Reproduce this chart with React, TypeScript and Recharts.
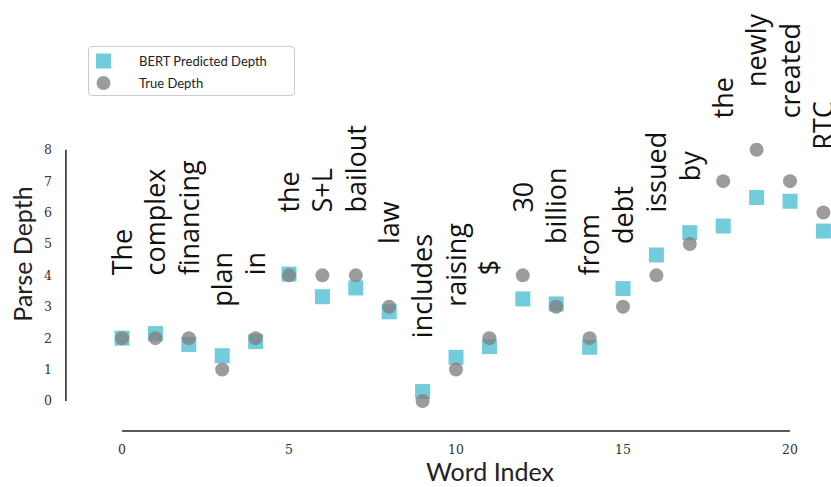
import React from "react";
import { ReferenceLine, Scatter, ScatterChart, XAxis, YAxis, Label } from "recharts";

const words = [
  "The", "complex", "financing", "plan", "in", "the", "S+L", "bailout", "law",
  "includes", "raising", "$", "30", "billion", "from", "debt", "issued", "by",
  "the", "newly", "created", "RTC",
];
const trueDepth = [2, 2, 2, 1, 2, 4, 4, 4, 3, 0, 1, 2, 4, 3, 2, 3, 4, 5, 7, 8, 7, 6];
const predDepth = [
  2.0, 2.15, 1.8, 1.44, 1.89, 4.04, 3.32, 3.6, 2.84, 0.3, 1.39, 1.73, 3.25, 3.09,
  1.71, 3.58, 4.65, 5.36, 5.57, 6.48, 6.36, 5.41,
];
const xTicks = [0, 5, 10, 15, 20];
const yTicks = [0, 1, 2, 3, 4, 5, 6, 7, 8];
const seriesNames = ["BERT Predicted Depth", "True Depth"];

const predData = predDepth.map((y, i) => ({ x: i, y }));
const trueData = trueDepth.map((y, i) => ({ x: i, y }));
const wordData = words.map((word, i) => ({ x: i, y: trueDepth[i] + 2, word }));

const CYAN = "#5bc3d6";
const GRAY = "#808080";
const tickStyle = { fontFamily: "DejaVu Serif", fontSize: 12.5, fill: "#333" };

const SquareShape = (p: any) => (
  <rect x={p.cx - 7.5} y={p.cy - 7.5} width={15} height={15} fill={CYAN} fillOpacity={0.85} />
);
const CircleShape = (p: any) => (
  <circle cx={p.cx} cy={p.cy} r={7} fill={GRAY} fillOpacity={0.78} />
);
const WordShape = (p: any) => (
  <text
    x={p.cx}
    y={p.cy}
    dy="0.36em"
    transform={`rotate(-90 ${p.cx} ${p.cy})`}
    fontFamily="Open Sans"
    fontSize={27}
    fill="#111"
  >
    {p.payload.word}
  </text>
);

function LegendBox() {
  return (
    <div
      style={{
        position: "absolute",
        left: 88,
        top: 46,
        width: 207,
        height: 50,
        boxSizing: "border-box",
        border: "1px solid #ccc",
        borderRadius: 4,
        background: "rgba(255,255,255,0.8)",
        padding: "3px 0 0 0",
        fontFamily: "Lato",
        fontSize: 13,
        color: "#222",
      }}
    >
      {seriesNames.map((name, k) => (
        <div key={name} style={{ display: "flex", alignItems: "center", height: 22 }}>
          <svg width={50} height={22}>
            {k === 0 ? (
              <rect x={7} y={3.5} width={15} height={15} fill={CYAN} fillOpacity={0.85} />
            ) : (
              <circle cx={14.5} cy={11} r={7} fill={GRAY} fillOpacity={0.78} />
            )}
          </svg>
          <span>{name}</span>
        </div>
      ))}
    </div>
  );
}

export default function App() {
  return (
    <div
      style={{
        position: "absolute",
        left: 0,
        top: 0,
        width: 831,
        height: 487,
        overflow: "hidden",
        background: "#fff",
      }}
    >
      <ScatterChart
        width={850}
        height={487}
        margin={{ top: 0, right: 9.9, bottom: 0, left: 0 }}
      >
        <XAxis
          type="number"
          dataKey="x"
          domain={[-1.8, 21.5]}
          ticks={xTicks}
          axisLine={false}
          tickLine={false}
          tickSize={6}
          tickMargin={8}
          height={55.9}
          tick={tickStyle}
        >
          <Label
            value="Word Index"
            position="insideBottom"
            offset={6}
            dx={39}
            style={{ fontFamily: "Lato", fontSize: 25, fill: "#222" }}
          />
        </XAxis>
        <YAxis
          type="number"
          dataKey="y"
          domain={[-0.96, 12.77]}
          ticks={yTicks}
          axisLine={false}
          tickLine={false}
          tickSize={6}
          tickMargin={4}
          width={61.9}
          tick={tickStyle}
        >
          <Label
            value="Parse Depth"
            angle={-90}
            position="insideLeft"
            offset={23}
            dy={38.5}
            style={{ fontFamily: "Lato", fontSize: 25, fill: "#222", textAnchor: "middle" }}
          />
        </YAxis>
        <ReferenceLine
          segment={[{ x: 0, y: -0.96 }, { x: 20, y: -0.96 }]}
          stroke="#222"
          strokeWidth={1.5}
          ifOverflow="visible"
        />
        <ReferenceLine
          segment={[{ x: -1.68, y: 0 }, { x: -1.68, y: 8 }]}
          stroke="#222"
          strokeWidth={1.5}
          ifOverflow="visible"
        />
        <Scatter
          name={seriesNames[0]}
          data={predData}
          shape={SquareShape}
          fill={CYAN}
          isAnimationActive={false}
        />
        <Scatter
          name={seriesNames[1]}
          data={trueData}
          shape={CircleShape}
          fill={GRAY}
          isAnimationActive={false}
        />
        <Scatter name="words" data={wordData} shape={WordShape} isAnimationActive={false} />
      </ScatterChart>
      <LegendBox />
    </div>
  );
}
